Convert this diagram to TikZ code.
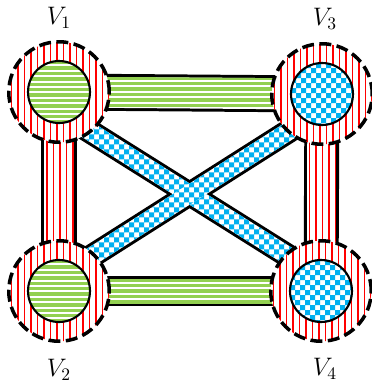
\documentclass[tikz,border=0pt]{standalone}
\usepackage{xcolor}
\usetikzlibrary{calc,backgrounds,positioning}

\definecolor{lgreen}{RGB}{146,208,80}
\definecolor{lblue}{RGB}{0,176,240}

% band of half width #3 from #1 to #2
\newcommand{\bandpath}[3]{($(#1)!#3!90:(#2)$) -- ($(#2)!#3!-90:(#1)$) -- ($(#2)!#3!90:(#1)$) -- ($(#1)!#3!-90:(#2)$) -- cycle}

\tikzset{
  % fills, painted inside the path
  redfill/.style={path picture={
    \fill[white] (path picture bounding box.north west) rectangle (path picture bounding box.south east);
    \foreach \k in {0,...,60}
      \fill[red] ($(path picture bounding box.north west)+(\k*6.5+2,0)$) rectangle ++(1.6,400);}},
  greenfill/.style={path picture={
    \fill[white] (path picture bounding box.north west) rectangle (path picture bounding box.south east);
    \foreach \k in {0,...,75}
      \fill[lgreen] ($(path picture bounding box.north west)+(0,\k*5.4)$) rectangle ++(400,3.4);}},
  bluefill/.style={path picture={
    \fill[white] (path picture bounding box.north west) rectangle (path picture bounding box.south east);
    \fill[lblue,even odd rule] \foreach \k in {0,...,40} {
      ($(path picture bounding box.north west)+(\k*10,0)$) rectangle ++(5,400)
      ($(path picture bounding box.north west)+(0,\k*10)$) rectangle ++(400,5)};}},
  outerdisk/.style={circle,minimum size=2.01cm,inner sep=0pt,redfill,draw=black,line width=2pt,dash pattern=on 6.8pt off 3.1pt},
  innerdisk/.style={circle,minimum size=1.24cm,inner sep=0pt,draw=black,line width=1.2pt},
  bandline/.style={draw=black,line width=3.4pt,line join=miter},
  vlabel/.style={inner sep=0pt,font=\Large}
}

\begin{document}
\begin{tikzpicture}[x=0.02cm,y=-0.02cm]
  \useasboundingbox (0,0) rectangle (372,390);
  % vertices
  \node[outerdisk] (V1) at (59,92) {};
  \node[outerdisk] (V2) at (59,291) {};
  \node[outerdisk] (V3) at (322,94) {};
  \node[outerdisk] (V4) at (321,291) {};
  \node[innerdisk,greenfill] (V1in) at (V1) {};
  \node[innerdisk,greenfill] (V2in) at (V2) {};
  \node[innerdisk,bluefill] (V3in) at (V3) {};
  \node[innerdisk,bluefill] (V4in) at (V4) {};
  \node[vlabel,above=0.22cm of V1] (L1) {$V_1$};
  \node[vlabel,below=0.32cm of V2] (L2) {$V_2$};
  \node[vlabel,above=0.24cm of V3,xshift=0.06cm] (L3) {$V_3$};
  \node[vlabel,below=0.30cm of V4,xshift=0.08cm] (L4) {$V_4$};
  % diagonal ends
  \coordinate (a14) at ($(V1.center)+(0,20)$);
  \coordinate (b14) at ($(V4.center)+(-1,-15)$);
  \coordinate (a23) at ($(V2.center)+(0,-14)$);
  \coordinate (b23) at ($(V3.center)+(0,16)$);
  % edges, outlines first
  \begin{pgfonlayer}{background}
    \draw[bandline] \bandpath{V1.center}{V3.center}{0.31cm};
    \draw[bandline] \bandpath{V2.center}{V4.center}{0.25cm};
    \draw[bandline] \bandpath{V1.center}{V2.center}{0.30cm};
    \draw[bandline] \bandpath{V3.center}{V4.center}{0.29cm};
    \draw[bandline] \bandpath{a14}{b14}{0.18cm};
    \draw[bandline] \bandpath{a23}{b23}{0.18cm};
    \path[greenfill] \bandpath{V1.center}{V3.center}{0.31cm};
    \path[greenfill] \bandpath{V2.center}{V4.center}{0.25cm};
    \path[redfill] \bandpath{V1.center}{V2.center}{0.30cm};
    \path[redfill] \bandpath{V3.center}{V4.center}{0.29cm};
    \path[bluefill] \bandpath{a14}{b14}{0.18cm};
    \path[bluefill] \bandpath{a23}{b23}{0.18cm};
  \end{pgfonlayer}
\end{tikzpicture}
\end{document}
